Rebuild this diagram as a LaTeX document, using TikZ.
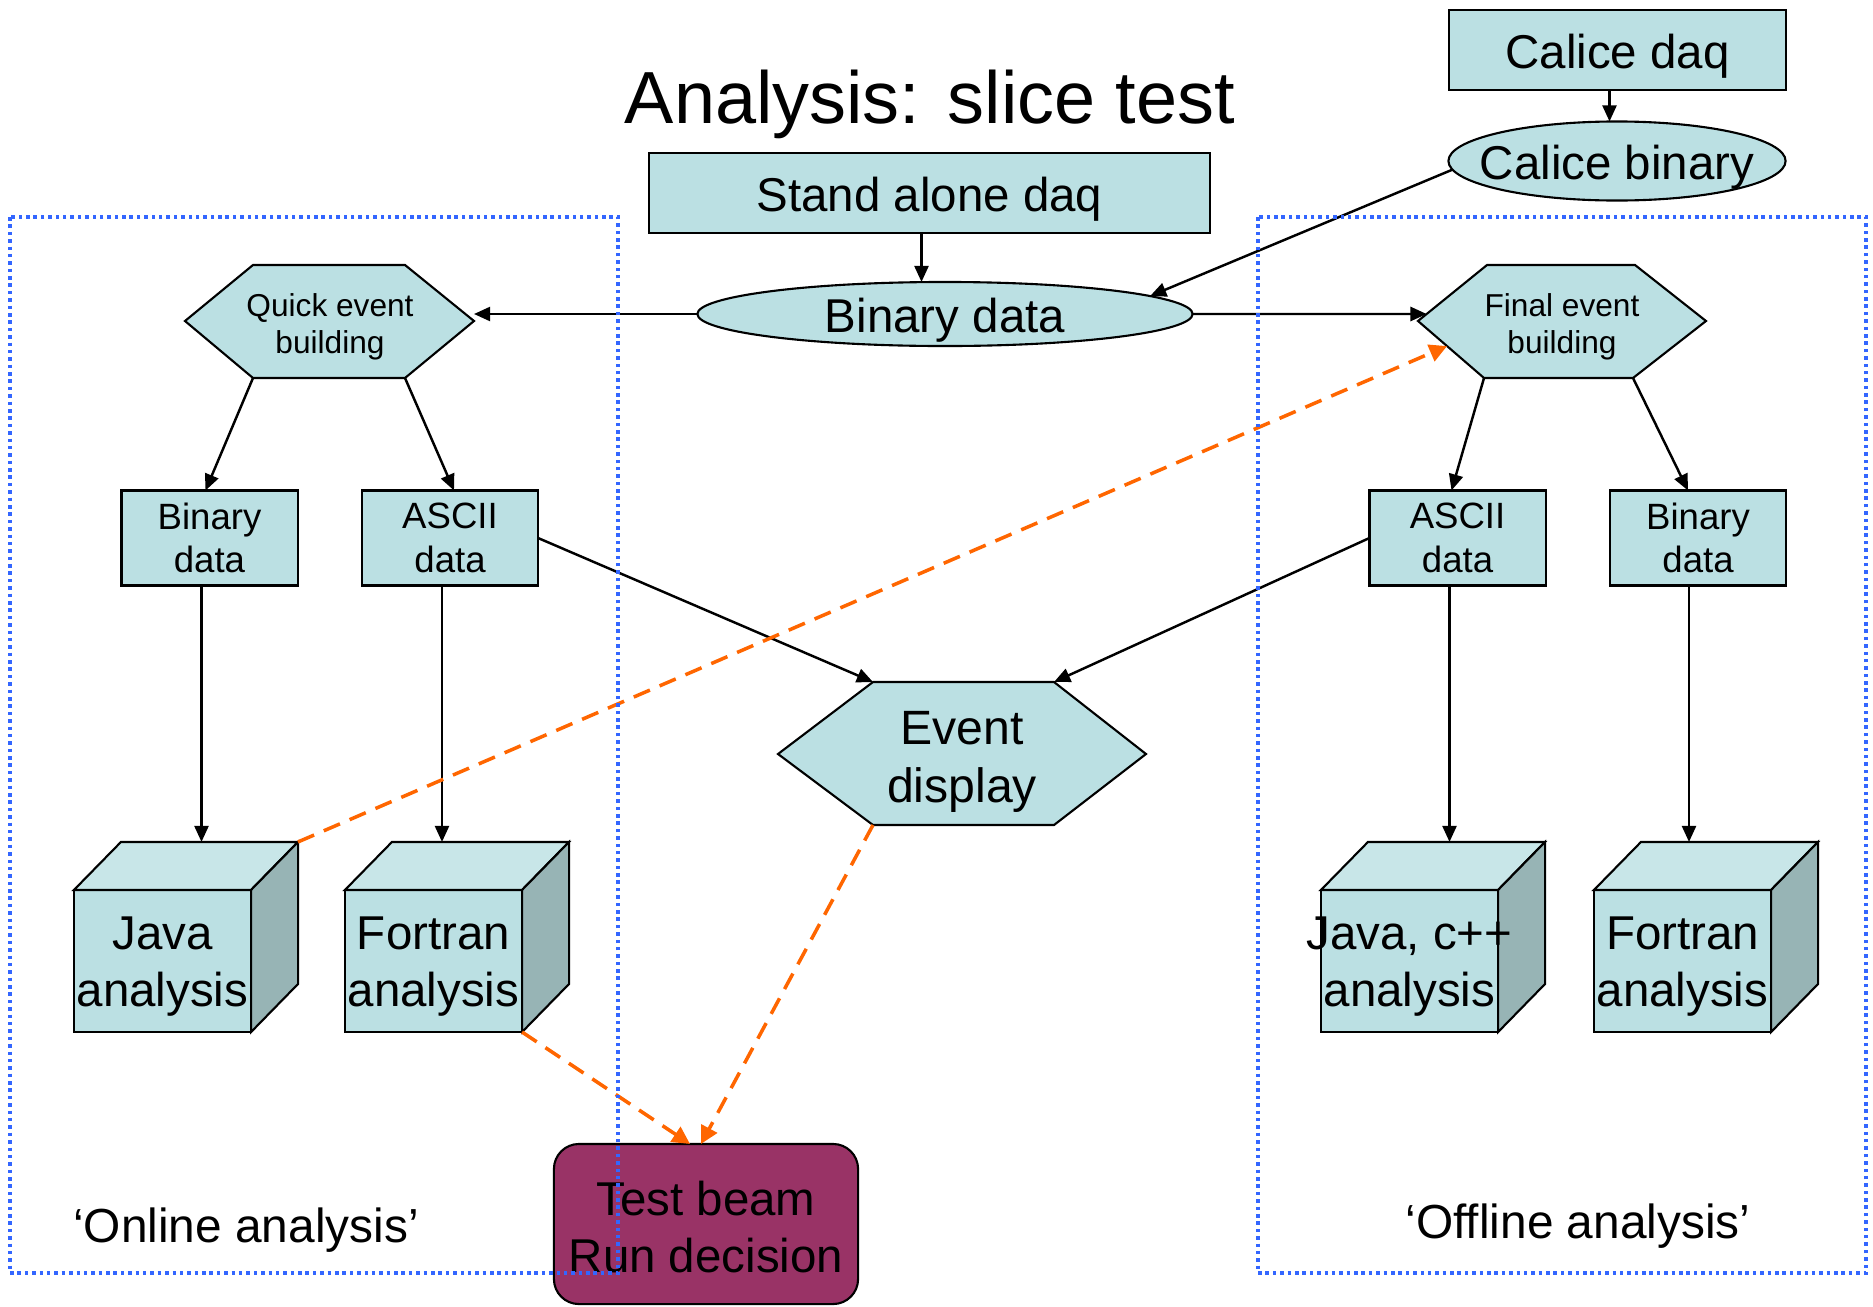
\documentclass[tikz,border=0pt]{standalone}
\usepackage{fontspec}
\setmainfont{Liberation Sans}
\usetikzlibrary{arrows.meta,shapes.geometric,calc}
\definecolor{boxfill}{RGB}{187,224,227}
\definecolor{cubetop}{RGB}{200,230,232}
\definecolor{cubeside}{RGB}{151,180,181}
\definecolor{decision}{RGB}{153,51,102}
\definecolor{flow}{RGB}{255,102,0}
\definecolor{frameblue}{RGB}{51,102,255}

\begin{document}
\begin{tikzpicture}[x=0.01cm,y=-0.01cm,
  every node/.style={inner sep=0pt, outer sep=0pt},
  outline/.style={draw=black, line width=0.6pt},
  bigtext/.style={font=\fontsize{13.5}{16.2}\selectfont, align=center, yshift=-0.06cm},
  bigbox/.style={outline, fill=boxfill, rectangle, minimum height=0.80cm},
  oval/.style={outline, fill=boxfill, ellipse},
  databox/.style={outline, fill=boxfill, rectangle, minimum width=1.76cm,
    minimum height=0.95cm, align=center, font=\fontsize{10.4}{12.3}\selectfont},
  hexface/.style={outline, fill=boxfill, line join=miter},
  hextext/.style={align=center, font=\fontsize{9}{10.6}\selectfont, yshift=-0.05cm},
  cubefront/.style={outline, fill=boxfill, minimum width=1.77cm, minimum height=1.42cm},
  cubetopface/.style={outline, fill=cubetop, line join=miter},
  cubesideface/.style={outline, fill=cubeside, line join=miter},
  arr/.style={draw=black, line width=0.7pt, -{Triangle[length=4.6pt,width=4pt]}},
  flowarr/.style={draw=flow, line width=1pt, dash pattern=on 5pt off 3pt,
    -{Triangle[length=5pt,width=5pt]}},
  frame/.style={draw=frameblue, line width=1.1pt, dash pattern=on 1pt off 1.1pt},
  grouplabel/.style={font=\fontsize{13.6}{16}\selectfont, anchor=base}
]
\useasboundingbox (0,0) rectangle (1873,1306);

% title
\node[font=\fontsize{21}{25}\selectfont, anchor=base] (title) at (930,123) {Analysis: slice test};

% sources
\node[bigbox, minimum width=3.37cm] (cdaq) at (1617.5,50) {};
\node[bigtext] (cdaqtext) at (cdaq) {Calice daq};
\node[oval, minimum width=3.37cm, minimum height=0.79cm] (cbin) at (1617,161) {};
\node[bigtext] (cbintext) at (cbin) {Calice binary};
\node[bigbox, minimum width=5.61cm] (sad) at (929.5,193) {};
\node[bigtext] (sadtext) at (sad) {Stand alone daq};
\node[oval, minimum width=4.95cm, minimum height=0.64cm] (bindata) at (945,314) {};
\node[bigtext] (bindatatext) at (bindata) {Binary data};

% event building hexagons
\draw[hexface] (185,321) coordinate (qL) -- (253,265) coordinate (qTL)
  -- (405,265) coordinate (qTR) -- (474,321) coordinate (qR)
  -- (405,378) coordinate (qBR) -- (253,378) coordinate (qBL) -- cycle;
\node[hextext] (quick) at (330,322) {Quick event\\building};
\draw[hexface] (1418,321) coordinate (fL) -- (1487,265) coordinate (fTL)
  -- (1635,265) coordinate (fTR) -- (1706,321) coordinate (fR)
  -- (1633,378) coordinate (fBR) -- (1484,378) coordinate (fBL) -- cycle;
\node[hextext] (final) at (1562,322) {Final event\\building};

% data boxes
\node[databox] (lbin) at (209.5,538) {Binary\\data};
\node[databox] (lasc) at (450,538) {ASCII\\data};
\node[databox] (rasc) at (1457.5,538) {ASCII\\data};
\node[databox] (rbin) at (1698,538) {Binary\\data};

% event display hexagon
\draw[hexface] (778,754) coordinate (eL) -- (873,682) coordinate (eTL)
  -- (1054,682) coordinate (eTR) -- (1146,754) coordinate (eR)
  -- (1054,825) coordinate (eBR) -- (873,825) coordinate (eBL) -- cycle;
\node[bigtext, font=\fontsize{13.7}{16.7}\selectfont] (event) at (962,756) {Event\\display};

% analysis cubes
\foreach \name/\cx in {java/162.5, fortl/433.5, javac/1409.5, fortr/1682.5}{
  \node[cubefront] (\name) at (\cx,961) {};
  \draw[cubetopface] (\name.north west) -- ++(47,-48) coordinate (\name TL)
    -- ++(177,0) coordinate (\name TR) -- (\name.north east) -- cycle;
  \draw[cubesideface] (\name.north east) -- ++(47,-48) -- ++(0,142)
    -- (\name.south east) -- cycle;
}
\node[bigtext] (javatext) at (java) {Java\\analysis};
\node[bigtext] (fortltext) at (fortl) {Fortran\\analysis};
\node[bigtext] (javactext) at (javac) {Java, c++\\analysis};
\node[bigtext] (fortrtext) at (fortr) {Fortran\\analysis};

% decision box
\node[outline, fill=decision, rounded corners=0.25cm, minimum width=3.04cm,
  minimum height=1.60cm] (tb) at (706,1224) {};
\node[bigtext, yshift=0.03cm] (tbtext) at (tb) {Test beam\\Run decision};

% group labels
\node[grouplabel] (online) at (246,1242) {‘Online analysis’};
\node[grouplabel] (offline) at (1578,1238) {‘Offline analysis’};

% data flow
\draw[arr] ([xshift=-0.08cm]cdaq.south) -- ([xshift=-0.08cm]cdaq.south |- cbin.north);
\draw[arr] ([xshift=-0.08cm]sad.south) -- ([xshift=-0.08cm]sad.south |- bindata.north);
\draw[arr] (cbin.183) -- (bindata.5);
\draw[arr] (bindata.west) -- (bindata.west -| qR);
\draw[arr] (bindata.east) -- ($(fL)!0.125!(fTL)$);
\draw[arr] (qBL) -- ([xshift=-0.04cm]lbin.north);
\draw[arr] (qBR) -- ([xshift=0.04cm]lasc.north);
\draw[arr] (fBL) -- ([xshift=-0.06cm]rasc.north);
\draw[arr] (fBR) -- ([xshift=-0.1cm]rbin.north);
\draw[arr] ([xshift=-0.08cm]lbin.south) -- ([xshift=-0.08cm]lbin.south |- javaTL);
\draw[arr] ([xshift=-0.08cm]lasc.south) -- ([xshift=-0.08cm]lasc.south |- fortlTL);
\draw[arr] ([xshift=-0.08cm]rasc.south) -- ([xshift=-0.08cm]rasc.south |- javacTL);
\draw[arr] ([xshift=-0.09cm]rbin.south) -- ([xshift=-0.09cm]rbin.south |- fortrTL);
\draw[arr] (lasc.east) -- (eTL);
\draw[arr] (rasc.west) -- (eTR);

% feedback paths
\draw[flowarr] (javaTR) -- ($(fL)!0.44!(fBL)$);
\draw[flowarr] (fortl.south east) -- ($(tb.north)+(-16,0)$);
\draw[flowarr] (eBL) -- ($(tb.north)+(-5,0)$);

% online / offline regions
\draw[frame] (10,217) rectangle (618,1273);
\draw[frame] (1258,217) rectangle (1866,1273);
\end{tikzpicture}
\end{document}
